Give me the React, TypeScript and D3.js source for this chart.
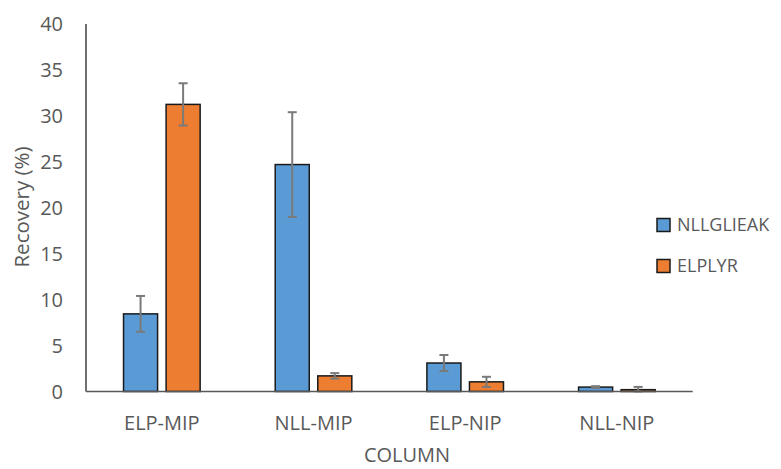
import React from "react";
import * as d3 from "d3";

const categories = ["ELP-MIP", "NLL-MIP", "ELP-NIP", "NLL-NIP"];
const seriesNames = ["NLLGLIEAK", "ELPLYR"];
const nllgValues = [8.45, 24.7, 3.1, 0.48];
const nllgErrors = [1.95, 5.7, 0.87, 0.1];
const elpValues = [31.25, 1.7, 1.05, 0.2];
const elpErrors = [2.3, 0.3, 0.55, 0.3];
const yTicks = [0, 5, 10, 15, 20, 25, 30, 35, 40];
const colors = ["#5B9BD5", "#ED7D31"];

const W = 781;
const H = 469;
const left = 86;
const right = 692.7;
const top = 24;
const bottom = 391.5;
const FONT = "'Open Sans', sans-serif";

export default function App() {
  const x0 = d3.scaleBand<string>().domain(categories).range([left, right]).padding(0);
  const groupW = 76.6;
  const x1 = d3.scaleBand<string>().domain(seriesNames).range([0, groupW]).paddingInner(0.2).paddingOuter(0);
  const y = d3.scaleLinear().domain([0, 40]).range([bottom, top]);
  const series = [
    { name: seriesNames[0], values: nllgValues, errors: nllgErrors, color: colors[0] },
    { name: seriesNames[1], values: elpValues, errors: elpErrors, color: colors[1] },
  ];
  return (
    <svg width={W} height={H} style={{ display: "block", position: "absolute", left: 0, top: 0 }} fontFamily={FONT}>
      <rect width={W} height={H} fill="#fff" />
      {yTicks.map((t) => (
        <text key={t} x={63} y={y(t)} dy="0.35em" textAnchor="end" fontSize={20} fill="#595959">
          {t}
        </text>
      ))}
      {series.map((s) =>
        categories.map((c, i) => {
          const bx = (x0(c) as number) + (x0.bandwidth() - groupW) / 2 + (x1(s.name) as number);
          const bw = x1.bandwidth();
          const cx = bx + bw / 2;
          const v = s.values[i];
          const e = s.errors[i];
          return (
            <g key={s.name + c}>
              <rect x={bx} y={y(v)} width={bw} height={y(0) - y(v)} fill={s.color} stroke="#1a1a1a" strokeWidth={1.5} />
              <line x1={cx} x2={cx} y1={y(v + e)} y2={y(Math.max(0, v - e))} stroke="#7a7a7a" strokeWidth={2} />
              <line x1={cx - 4.5} x2={cx + 4.5} y1={y(v + e)} y2={y(v + e)} stroke="#7a7a7a" strokeWidth={2} />
              <line x1={cx - 4.5} x2={cx + 4.5} y1={y(Math.max(0, v - e))} y2={y(Math.max(0, v - e))} stroke="#7a7a7a" strokeWidth={2} />
            </g>
          );
        })
      )}
      <line x1={left} x2={left} y1={top} y2={bottom} stroke="#404040" strokeWidth={1.5} />
      <line x1={left} x2={right} y1={bottom} y2={bottom} stroke="#595959" strokeWidth={1.5} />
      {categories.map((c) => (
        <text key={c} x={(x0(c) as number) + x0.bandwidth() / 2} y={430} textAnchor="middle" fontSize={20} fill="#595959">
          {c}
        </text>
      ))}
      <text x={407} y={462} textAnchor="middle" fontSize={20} fill="#595959">COLUMN</text>
      <text transform={`translate(29,207) rotate(-90)`} textAnchor="middle" fontSize={20.5} fill="#595959">Recovery (%)</text>
      {series.map((s, i) => (
        <g key={s.name} transform={`translate(657,${225 + i * 41})`}>
          <rect x={0} y={-6.5} width={13} height={13} fill={s.color} stroke="#1a1a1a" strokeWidth={1.5} />
          <text x={20} y={0} dy="0.35em" fontSize={18} fill="#595959">{s.name}</text>
        </g>
      ))}
    </svg>
  );
}
